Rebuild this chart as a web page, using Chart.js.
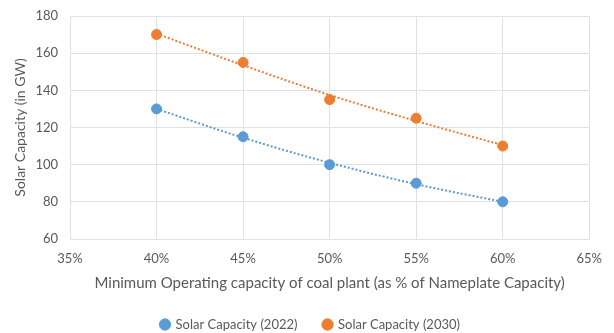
<!DOCTYPE html>
<html>
    <head>
        <script src="https://cdn.jsdelivr.net/npm/chart.js"></script>
        <style>
            html, body { margin: 0; padding: 0; background: #ffffff; }
            #wrap { width: 614px; height: 333px; }
        </style>
    </head>
    <body>
        <div id="wrap">
            <canvas id="myChart"></canvas>
        </div>

        <script>
            // minimum operating capacity (% of nameplate)
            const minCapacity = [40, 45, 50, 55, 60];
            const solar2022 = [130, 115, 100, 90, 80];
            const solar2030 = [170, 155, 135, 125, 110];
            // dotted trendlines
            const trend2022 = [130, 114.5, 101, 89.5, 80];
            const trend2030 = [170.5, 153.5, 137.5, 123.5, 110.5];
            const seriesNames = ['Solar Capacity (2022)', 'Solar Capacity (2030)'];

            const blue = '#5B9BD5';
            const orange = '#ED7D31';
            const grey = '#595959';
            const gridColor = '#E0E0E0';
            const fontFamily = 'Lato, "Open Sans", sans-serif';

            function toPoints(values) {
                return minCapacity.map((x, i) => ({ x: x, y: values[i] }));
            }

            const data = {
                datasets: [
                    {
                        label: seriesNames[0],
                        data: toPoints(solar2022),
                        backgroundColor: blue,
                        borderColor: blue,
                        pointRadius: 5,
                        pointHoverRadius: 5,
                        order: 1
                    }, {
                        label: seriesNames[1],
                        data: toPoints(solar2030),
                        backgroundColor: orange,
                        borderColor: orange,
                        pointRadius: 5,
                        pointHoverRadius: 5,
                        order: 1
                    }, {
                        label: 'trend 2022',
                        data: toPoints(trend2022),
                        showLine: true,
                        borderColor: blue,
                        borderWidth: 2,
                        borderDash: [2, 2],
                        pointRadius: 0,
                        tension: 0.3,
                        cubicInterpolationMode: 'monotone',
                        order: 2
                    }, {
                        label: 'trend 2030',
                        data: toPoints(trend2030),
                        showLine: true,
                        borderColor: orange,
                        borderWidth: 2,
                        borderDash: [2, 2],
                        pointRadius: 0,
                        tension: 0.3,
                        cubicInterpolationMode: 'monotone',
                        order: 2
                    }
                ]
            };

            const ctx = document.getElementById('myChart').getContext('2d');
            const myChart = new Chart(ctx, {
                type: 'scatter',
                data: data,
                options: {
                    responsive: true,
                    maintainAspectRatio: false,
                    animation: false,
                    layout: {
                        // legend sits a bit lower than chart.js puts it by default
                        padding: { top: 16, right: 5, bottom: -8, left: 12 }
                    },
                    plugins: {
                        tooltip: { enabled: false },
                        legend: {
                            position: 'bottom',
                            labels: {
                                filter: (item) => item.datasetIndex < 2,
                                usePointStyle: true,
                                pointStyle: 'circle',
                                boxWidth: 8,
                                boxHeight: 8,
                                padding: 26,
                                color: grey,
                                font: { family: fontFamily, size: 13 }
                            }
                        }
                    },
                    scales: {
                        x: {
                            type: 'linear',
                            min: 35,
                            max: 65,
                            afterFit: (scale) => { scale.height = 53; },
                            ticks: {
                                stepSize: 5,
                                padding: 12,
                                color: grey,
                                font: { family: fontFamily, size: 13 },
                                callback: (value) => value + '%'
                            },
                            grid: { color: gridColor, drawTicks: false },
                            border: { color: gridColor },
                            title: {
                                display: true,
                                text: 'Minimum Operating capacity of coal plant (as % of Nameplate Capacity)',
                                color: grey,
                                font: { family: fontFamily, size: 15 },
                                padding: { top: 3, bottom: 0 }
                            }
                        },
                        y: {
                            min: 60,
                            max: 180,
                            afterFit: (scale) => {
                                scale.width = 58;
                                scale.paddingTop = 0;
                                scale.paddingBottom = 0;
                            },
                            ticks: {
                                stepSize: 20,
                                padding: 12,
                                color: grey,
                                font: { family: fontFamily, size: 13 }
                            },
                            grid: { color: gridColor, drawTicks: false },
                            border: { display: false },
                            title: {
                                display: true,
                                text: 'Solar Capacity (in GW)',
                                color: grey,
                                font: { family: fontFamily, size: 14 },
                                padding: { top: 0, bottom: 0 }
                            }
                        }
                    }
                }
            });
        </script>
    </body>
</html>
